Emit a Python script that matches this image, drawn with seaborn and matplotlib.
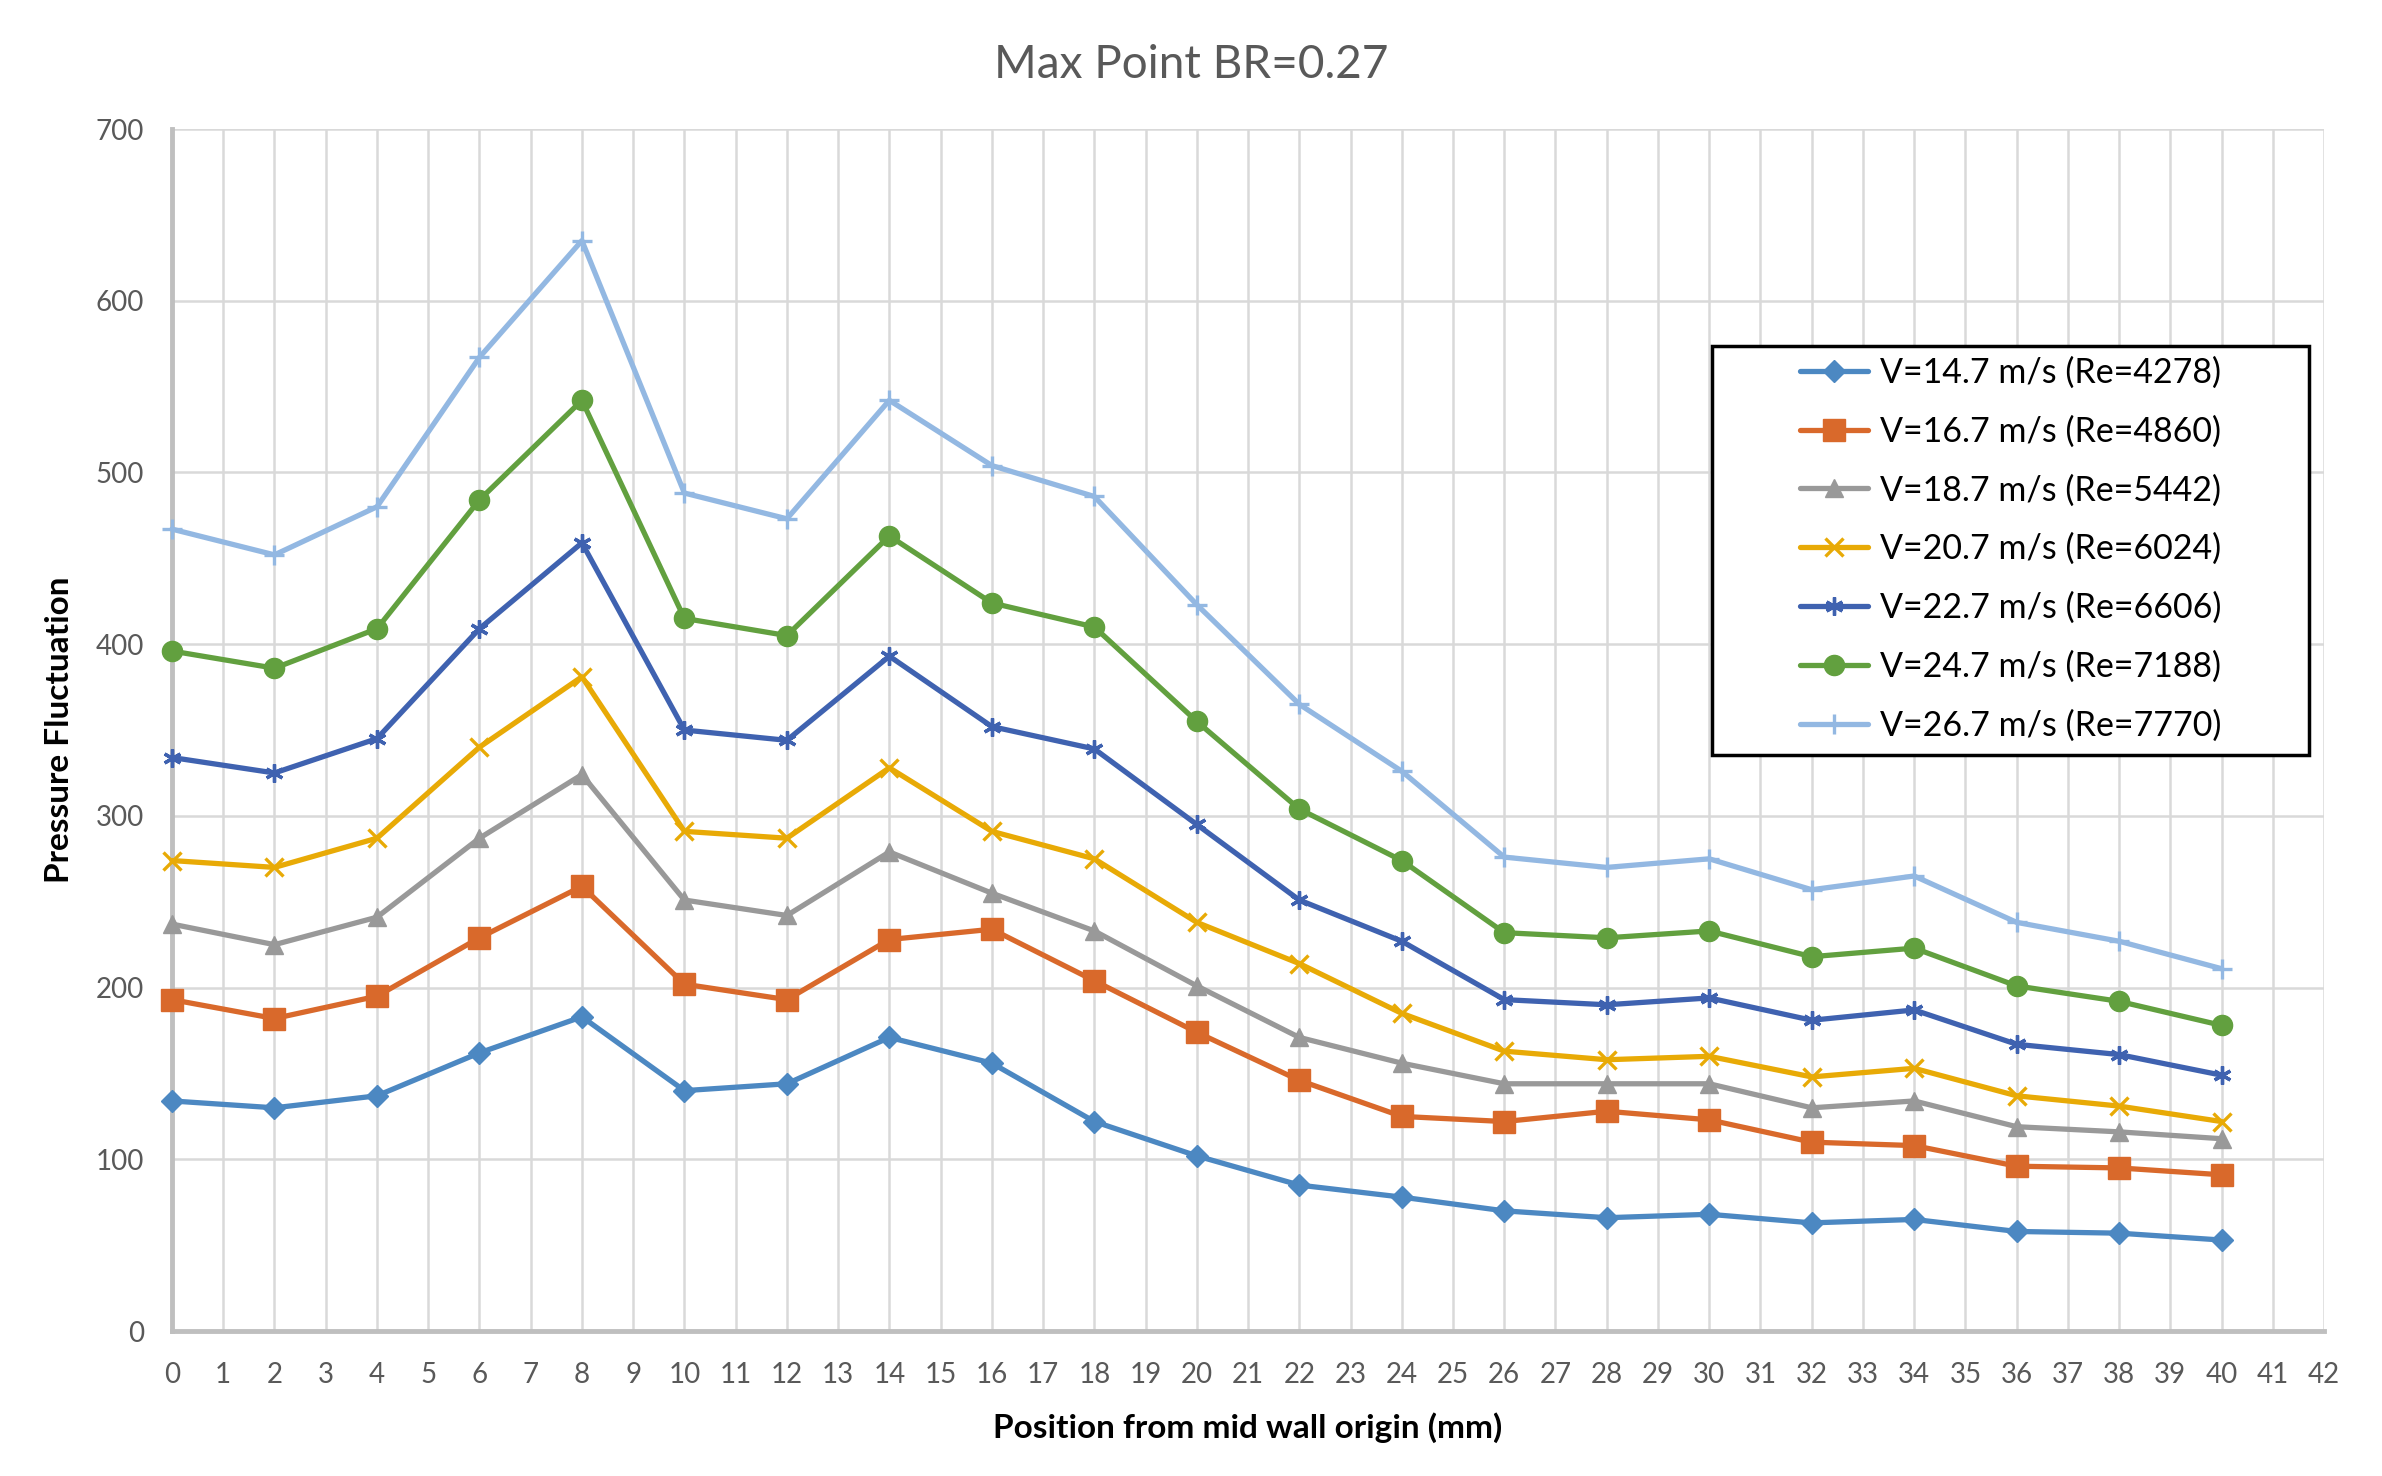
import numpy as np
import pandas as pd
import matplotlib
matplotlib.use("Agg")
import matplotlib.pyplot as plt
from matplotlib.patches import Rectangle
import seaborn as sns

# Data
positions = [0, 2, 4, 6, 8, 10, 12, 14, 16, 18, 20, 22, 24, 26, 28, 30, 32, 34, 36, 38, 40]

v147 = [134, 130, 137, 162, 183, 140, 144, 171, 156, 122, 102, 85, 78, 70, 66, 68, 63, 65, 58, 57, 53]
v167 = [193, 182, 195, 229, 259, 202, 193, 228, 234, 204, 174, 146, 125, 122, 128, 123, 110, 108, 96, 95, 91]
v187 = [237, 225, 241, 287, 324, 251, 242, 279, 255, 233, 201, 171, 156, 144, 144, 144, 130, 134, 119, 116, 112]
v207 = [274, 270, 287, 340, 381, 291, 287, 328, 291, 275, 238, 214, 185, 163, 158, 160, 148, 153, 137, 131, 122]
v227 = [334, 325, 345, 409, 459, 350, 344, 393, 352, 339, 295, 251, 227, 193, 190, 194, 181, 187, 167, 161, 149]
v247 = [396, 386, 409, 484, 542, 415, 405, 463, 424, 410, 355, 304, 274, 232, 229, 233, 218, 223, 201, 192, 178]
v267 = [467, 452, 480, 567, 635, 488, 473, 542, 504, 486, 423, 365, 326, 276, 270, 275, 257, 265, 238, 227, 211]

labels = [
    "V=14.7 m/s (Re=4278)",
    "V=16.7 m/s (Re=4860)",
    "V=18.7 m/s (Re=5442)",
    "V=20.7 m/s (Re=6024)",
    "V=22.7 m/s (Re=6606)",
    "V=24.7 m/s (Re=7188)",
    "V=26.7 m/s (Re=7770)",
]
series = [v147, v167, v187, v207, v227, v247, v267]

# Styling per series (Excel-like)
colors = ["#4C88C2", "#D9692B", "#999999", "#E8AA06", "#3F62B0", "#62A03F", "#93B8E2"]
markers = ["D", "s", "^", "x", (6, 2, 0), "o", "+"]
msizes = [11, 15.5, 13, 13, 13, 14.5, 14]
mews = [1, 1, 1, 2.4, 2.4, 1, 2.4]

sns.set_theme(style="white")
plt.rcParams["font.family"] = ["Lato", "DejaVu Sans"]

fig = plt.figure(figsize=(23.82, 14.76), dpi=100)
ax = fig.add_axes([0.0722, 0.0982, 0.9035, 0.8144])

for vals, lab, c, m, ms, mew in zip(series, labels, colors, markers, msizes, mews):
    df = pd.DataFrame({"x": positions, "y": vals})
    sns.lineplot(data=df, x="x", y="y", ax=ax, color=c, lw=3.8, marker=m,
                 markersize=ms, markeredgecolor=c, markerfacecolor=c,
                 markeredgewidth=mew, label=lab, errorbar=None, clip_on=False, zorder=5)

ax.set_xlim(0, 42)
ax.set_ylim(0, 700)
ax.set_xticks(np.arange(0, 43, 1))
ax.set_yticks(np.arange(0, 701, 100))
ax.grid(True, color="#D9D9D9", lw=1.8)
ax.set_axisbelow(True)
for s in ["top", "right"]:
    ax.spines[s].set_visible(False)
for s in ["left", "bottom"]:
    ax.spines[s].set_color("#BFBFBF")
    ax.spines[s].set_linewidth(3.5)
    ax.spines[s].set_zorder(3)
ax.tick_params(axis="both", length=0, labelsize=20, labelcolor="#595959")
ax.tick_params(axis="x", pad=22)
ax.tick_params(axis="y", pad=20)

ax.set_xlabel("Position from mid wall origin (mm)", fontsize=24, fontweight="bold", color="black", labelpad=18)
ax.set_ylabel("Pressure Fluctuation", fontsize=24, fontweight="bold", color="black", labelpad=16)
fig.suptitle("Max Point BR=0.27", fontsize=33, color="#595959", y=0.970)

# legend: frameless legend inside a drawn black box
box = Rectangle((1712 / 2382, 1 - 755 / 1476), (2309 - 1712) / 2382, (755 - 346) / 1476,
                transform=fig.transFigure, facecolor="white", edgecolor="black", lw=2.5,
                zorder=10, clip_on=False)
ax.add_patch(box)
leg = ax.legend(loc="center", bbox_to_anchor=(0.8440, 0.628), bbox_transform=fig.transFigure,
                frameon=False, fontsize=24.5, handlelength=2.0, handletextpad=0.35, labelspacing=0.78)
leg.set_zorder(11)
for t in leg.get_texts():
    t.set_color("black")

fig.savefig("out.png", dpi=100, facecolor="white")
